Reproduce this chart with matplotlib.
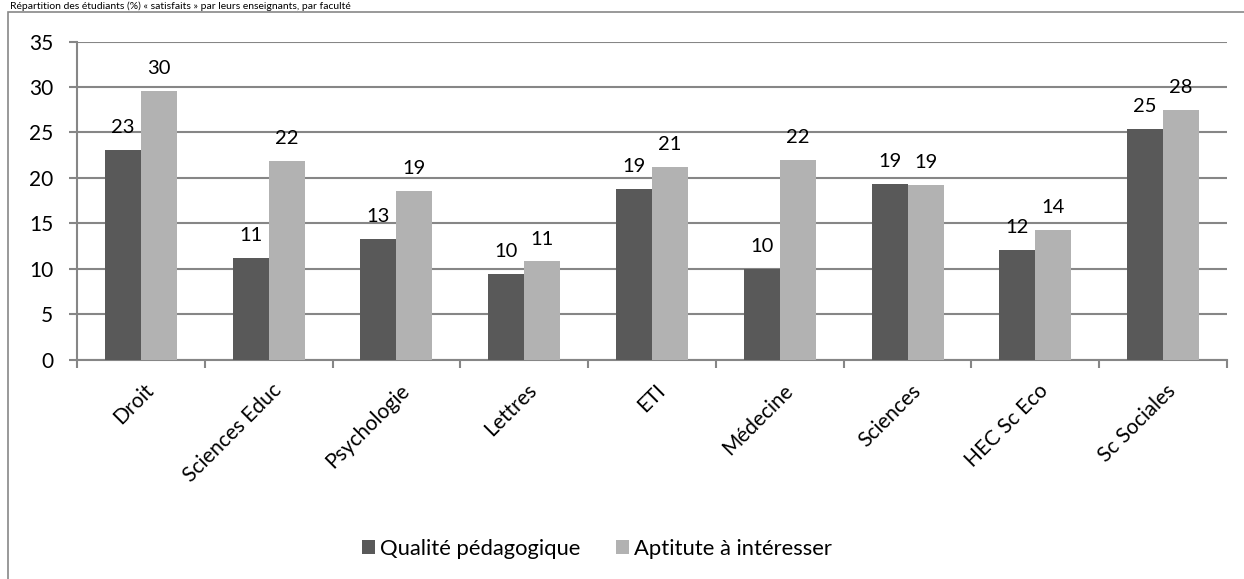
import numpy as np
import matplotlib.pyplot as plt
from matplotlib.patches import Rectangle

# Faculty data (%)
facultes = ["Droit", "Sciences Educ", "Psychologie", "Lettres", "ETI",
            "Médecine", "Sciences", "HEC Sc Eco", "Sc Sociales"]
qualite = [23.1, 11.2, 13.3, 9.4, 18.8, 10.0, 19.3, 12.1, 25.4]
aptitude = [29.6, 21.9, 18.6, 10.8, 21.2, 22.0, 19.2, 14.3, 27.5]
labels_qualite = ["23", "11", "13", "10", "19", "10", "19", "12", "25"]
labels_aptitude = ["30", "22", "19", "11", "21", "22", "19", "14", "28"]

plt.rcParams['font.family'] = ['Lato', 'DejaVu Sans']

W, H = 1244, 579
fig = plt.figure(figsize=(W / 100, H / 100), dpi=100)

# chart border (cropped on right and bottom)
fig.patches.append(Rectangle((8 / W, -0.1), 1.2, 1 - 12 / H + 0.1,
                             transform=fig.transFigure, fill=False,
                             edgecolor='#888888', lw=1.2))

# title (cropped in the original screenshot)
fig.text(10 / W, 1 - 1 / H,
         "Répartition des étudiants (%) « satisfaits » par leurs enseignants, par faculté",
         fontsize=7.5, va='top', ha='left')

ax = fig.add_axes([77 / W, 1 - 359.5 / H, 1150 / W, 317.8 / H])

x = np.arange(len(facultes))
w = 0.282
dark = '#595959'
light = '#b2b2b2'
b1 = ax.bar(x - w / 2, qualite, w, color=dark, label="Qualité pédagogique", zorder=3)
b2 = ax.bar(x + w / 2, aptitude, w, color=light, label="Aptitute à intéresser", zorder=3)

for bars, labs in [(b1, labels_qualite), (b2, labels_aptitude)]:
    for rect, lab in zip(bars, labs):
        ax.annotate(lab, (rect.get_x() + rect.get_width() / 2, rect.get_height()),
                    xytext=(0, 10), textcoords='offset points', ha='center',
                    va='bottom', fontsize=14.5)

ax.set_xlim(-0.5, len(facultes) - 0.5)
ax.set_ylim(0, 35)
ax.set_yticks(range(0, 36, 5))
ax.yaxis.grid(True, color='#868686', lw=1.5, zorder=0)
ax.set_axisbelow(True)

for s in ['top', 'right']:
    ax.spines[s].set_visible(False)
for s in ['left', 'bottom']:
    ax.spines[s].set_color('#868686')
    ax.spines[s].set_linewidth(1.5)

# ticks at category boundaries, labels at centers
ax.set_xticks(np.arange(-0.5, len(facultes), 1.0))
ax.set_xticklabels([])
for i, name in enumerate(facultes):
    ax.annotate(name, (i, 0), xycoords=('data', 'axes fraction'),
                xytext=(2, -15), textcoords='offset points', rotation=45,
                ha='right', va='top', rotation_mode='anchor', fontsize=15)
ax.tick_params(axis='x', which='major', length=6, color='#868686', width=1.5)
ax.tick_params(axis='y', length=6, color='#868686', width=1.5, labelsize=15, pad=11)

fig.legend(handles=[b1, b2], loc='center', bbox_to_anchor=(597 / W, 1 - 549 / H),
           ncol=2, frameon=False, fontsize=15.8, handlelength=0.6,
           handleheight=0.6, handletextpad=0.25, columnspacing=1.6)

fig.savefig("out.png", dpi=100)
